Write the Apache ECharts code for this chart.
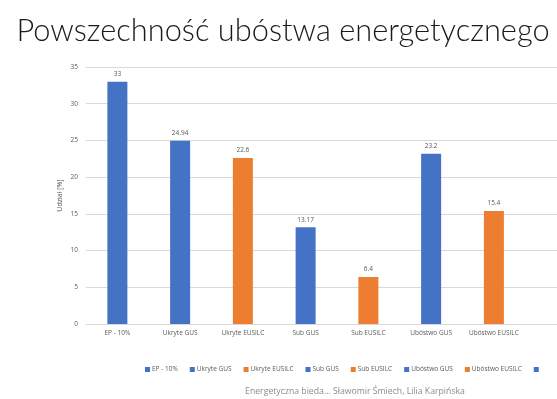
<!DOCTYPE html>
<html><head><meta charset="utf-8">
<script src="https://cdn.jsdelivr.net/npm/echarts@6/dist/echarts.min.js"></script>
<style>html,body{margin:0;padding:0;background:#fff;overflow:hidden}#c{width:588px;height:399px}</style>
</head><body><div id="c"></div>
<script>
const categories = ['EP - 10%', 'Ukryte GUS', 'Ukryte EUSILC', 'Sub GUS', 'Sub EUSILC', 'Ubóstwo GUS', 'Ubóstwo EUSILC', ' '];
const values = [33, 24.94, 22.6, 13.17, 6.4, 23.2, 15.4, null];
const colorKeys = ['b', 'b', 'o', 'b', 'o', 'b', 'o', 'b'];
const yTicks = [0, 5, 10, 15, 20, 25, 30, 35];
const palette = { b: '#4472C4', o: '#ED7D31' };

const series = categories.map((name, i) => ({
  name: name,
  type: 'bar',
  stack: 'all',
  barWidth: 20,
  itemStyle: { color: palette[colorKeys[i]] },
  data: categories.map((c, j) => (j === i && values[i] != null) ? values[i] : '-'),
  label: {
    show: true, position: 'top', distance: 4,
    color: '#595959', fontSize: 6.5, fontFamily: 'Open Sans'
  }
}));

const chart = echarts.init(document.getElementById('c'), null, { renderer: 'canvas' });
chart.setOption({
  animation: false,
  backgroundColor: '#fff',
  title: [{
    text: 'Powszechność ubóstwa energetycznego',
    left: 278, top: 11, textAlign: 'center',
    textStyle: { fontSize: 30.8, fontWeight: 300, color: '#1a1a1a', fontFamily: 'Lato' }
  }, {
    text: 'Energetyczna bieda... Sławomir Śmiech, Lilia Karpińska',
    left: 350, top: 382, textAlign: 'center',
    textStyle: { fontSize: 8.7, fontWeight: 'normal', color: '#8c8c8c', fontFamily: 'Open Sans' }
  }],
  legend: {
    left: 140, top: 361,
    itemWidth: 5, itemHeight: 5, itemGap: 12,
    icon: 'rect',
    textStyle: { fontSize: 6.5, color: '#595959', fontFamily: 'Open Sans', padding: [0, 0, 0, -3] },
    data: categories
  },
  grid: { left: 86, right: 0, top: 67, bottom: 75, containLabel: false },
  xAxis: {
    type: 'category', data: categories,
    axisLine: { lineStyle: { color: '#d9d9d9' } },
    axisTick: { show: false },
    axisLabel: { fontSize: 6.5, color: '#595959', margin: 6, fontFamily: 'Open Sans', interval: 0 }
  },
  yAxis: {
    type: 'value', min: yTicks[0], max: yTicks[yTicks.length - 1], interval: 5,
    name: 'Udział [%]', nameLocation: 'middle', nameGap: 23, nameRotate: 90,
    nameMoveOverlap: false,
    nameTextStyle: { fontSize: 7, color: '#595959', fontFamily: 'Open Sans' },
    axisLine: { show: false }, axisTick: { show: false },
    axisLabel: { fontSize: 6.5, color: '#595959', margin: 8, fontFamily: 'Open Sans' },
    splitLine: { lineStyle: { color: '#d9d9d9', width: 1 } }
  },
  series: series
});
</script></body></html>
